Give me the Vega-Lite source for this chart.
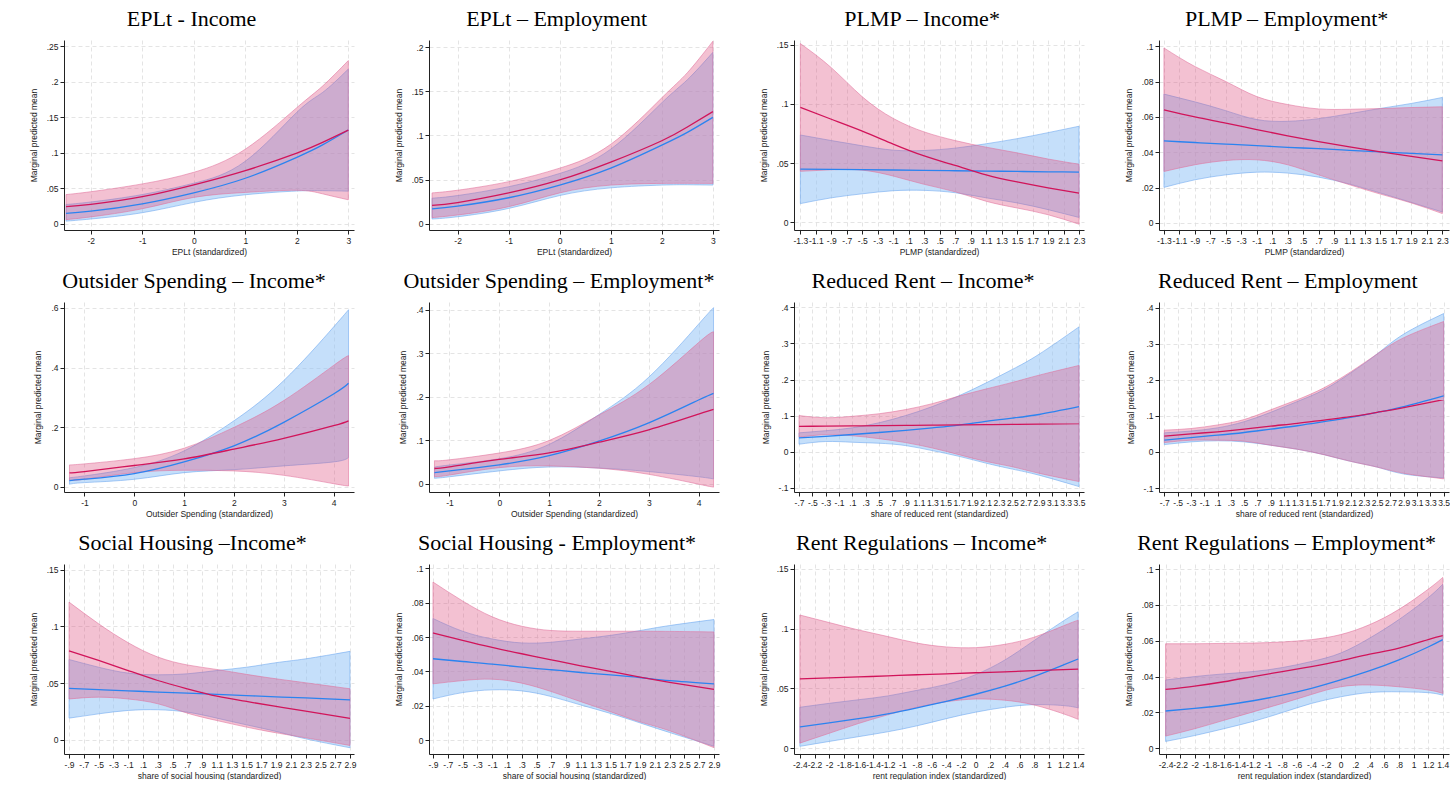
{
"$schema": "https://vega.github.io/schema/vega-lite/v6.json",
"background": "white",
"padding": {"left": 29, "top": 7, "right": 0, "bottom": 0},
"bounds": "flush",
"datasets": {"d": [
{"panel":1,"series":"1","x":-2.48,"mean":0.024,"lower":0.0056,"upper":0.041},
{"panel":1,"series":"1","x":-2,"mean":0.027,"lower":0.0095,"upper":0.045},
{"panel":1,"series":"1","x":-1,"mean":0.038,"lower":0.021,"upper":0.056},
{"panel":1,"series":"1","x":0,"mean":0.0547,"lower":0.037,"upper":0.0724},
{"panel":1,"series":"1","x":1,"mean":0.0748,"lower":0.044,"upper":0.105},
{"panel":1,"series":"1","x":2,"mean":0.0995,"lower":0.047,"upper":0.1636},
{"panel":1,"series":"1","x":2.5,"mean":0.1146,"lower":0.042,"upper":0.194},
{"panel":1,"series":"1","x":3,"mean":0.132,"lower":0.0336,"upper":0.23},
{"panel":1,"series":"2","x":-2.48,"mean":0.0145,"lower":0.0035,"upper":0.027},
{"panel":1,"series":"2","x":-2,"mean":0.0175,"lower":0.0065,"upper":0.0305},
{"panel":1,"series":"2","x":-1,"mean":0.028,"lower":0.0154,"upper":0.041},
{"panel":1,"series":"2","x":0,"mean":0.0435,"lower":0.03,"upper":0.057},
{"panel":1,"series":"2","x":1,"mean":0.064,"lower":0.0407,"upper":0.088},
{"panel":1,"series":"2","x":2,"mean":0.0935,"lower":0.046,"upper":0.157},
{"panel":1,"series":"2","x":2.5,"mean":0.111,"lower":0.0465,"upper":0.185},
{"panel":1,"series":"2","x":3,"mean":0.132,"lower":0.0458,"upper":0.218},
{"panel":2,"series":"1","x":-2.5,"mean":0.0209,"lower":0.007,"upper":0.035},
{"panel":2,"series":"1","x":-2,"mean":0.024,"lower":0.01,"upper":0.038},
{"panel":2,"series":"1","x":-1,"mean":0.0349,"lower":0.0194,"upper":0.0477},
{"panel":2,"series":"1","x":0,"mean":0.0496,"lower":0.035,"upper":0.063},
{"panel":2,"series":"1","x":1,"mean":0.0698,"lower":0.0438,"upper":0.09},
{"panel":2,"series":"1","x":2,"mean":0.094,"lower":0.0457,"upper":0.1426},
{"panel":2,"series":"1","x":2.5,"mean":0.1095,"lower":0.0458,"upper":0.171},
{"panel":2,"series":"1","x":3,"mean":0.127,"lower":0.0457,"upper":0.2066},
{"panel":2,"series":"2","x":-2.5,"mean":0.017,"lower":0.0054,"upper":0.029},
{"panel":2,"series":"2","x":-2,"mean":0.02,"lower":0.008,"upper":0.032},
{"panel":2,"series":"2","x":-1,"mean":0.0295,"lower":0.0174,"upper":0.042},
{"panel":2,"series":"2","x":0,"mean":0.0438,"lower":0.032,"upper":0.057},
{"panel":2,"series":"2","x":1,"mean":0.063,"lower":0.0407,"upper":0.0845},
{"panel":2,"series":"2","x":2,"mean":0.089,"lower":0.0438,"upper":0.137},
{"panel":2,"series":"2","x":2.5,"mean":0.1035,"lower":0.0442,"upper":0.163},
{"panel":2,"series":"2","x":3,"mean":0.1205,"lower":0.0438,"upper":0.194},
{"panel":3,"series":"1","x":-1.3,"mean":0.097,"lower":0.043,"upper":0.151},
{"panel":3,"series":"1","x":-0.9,"mean":0.087,"lower":0.0443,"upper":0.1306},
{"panel":3,"series":"1","x":-0.5,"mean":0.077,"lower":0.044,"upper":0.106},
{"panel":3,"series":"1","x":-0.1,"mean":0.066,"lower":0.039,"upper":0.0877},
{"panel":3,"series":"1","x":0.3,"mean":0.056,"lower":0.032,"upper":0.0763},
{"panel":3,"series":"1","x":0.7,"mean":0.048,"lower":0.0257,"upper":0.069},
{"panel":3,"series":"1","x":1.1,"mean":0.04,"lower":0.0177,"upper":0.0634},
{"panel":3,"series":"1","x":1.5,"mean":0.034,"lower":0.012,"upper":0.0586},
{"panel":3,"series":"1","x":1.9,"mean":0.029,"lower":0.0063,"upper":0.0534},
{"panel":3,"series":"1","x":2.3,"mean":0.0245,"lower":-0.0017,"upper":0.049},
{"panel":3,"series":"2","x":-1.3,"mean":0.0449,"lower":0.0157,"upper":0.0737},
{"panel":3,"series":"2","x":-0.9,"mean":0.0447,"lower":0.0206,"upper":0.069},
{"panel":3,"series":"2","x":-0.5,"mean":0.0444,"lower":0.024,"upper":0.0646},
{"panel":3,"series":"2","x":-0.1,"mean":0.0441,"lower":0.0266,"upper":0.0609},
{"panel":3,"series":"2","x":0.3,"mean":0.0438,"lower":0.0269,"upper":0.0606},
{"panel":3,"series":"2","x":0.7,"mean":0.0435,"lower":0.0249,"upper":0.0626},
{"panel":3,"series":"2","x":1.1,"mean":0.0432,"lower":0.0206,"upper":0.0663},
{"panel":3,"series":"2","x":1.5,"mean":0.0429,"lower":0.0163,"upper":0.0706},
{"panel":3,"series":"2","x":1.9,"mean":0.0426,"lower":0.0106,"upper":0.0757},
{"panel":3,"series":"2","x":2.3,"mean":0.0423,"lower":0.004,"upper":0.0811},
{"panel":4,"series":"1","x":-1.3,"mean":0.064,"lower":0.0291,"upper":0.099},
{"panel":4,"series":"1","x":-0.9,"mean":0.06,"lower":0.0329,"upper":0.0885},
{"panel":4,"series":"1","x":-0.5,"mean":0.0565,"lower":0.0353,"upper":0.08},
{"panel":4,"series":"1","x":-0.1,"mean":0.0528,"lower":0.0357,"upper":0.0715},
{"panel":4,"series":"1","x":0.3,"mean":0.0493,"lower":0.0329,"upper":0.067},
{"panel":4,"series":"1","x":0.7,"mean":0.046,"lower":0.0272,"upper":0.0645},
{"panel":4,"series":"1","x":1.1,"mean":0.043,"lower":0.0216,"upper":0.0643},
{"panel":4,"series":"1","x":1.5,"mean":0.0402,"lower":0.0163,"upper":0.0647},
{"panel":4,"series":"1","x":1.9,"mean":0.0376,"lower":0.0113,"upper":0.0653},
{"panel":4,"series":"1","x":2.3,"mean":0.0351,"lower":0.0053,"upper":0.0657},
{"panel":4,"series":"2","x":-1.3,"mean":0.0464,"lower":0.0201,"upper":0.0729},
{"panel":4,"series":"2","x":-0.9,"mean":0.0455,"lower":0.0244,"upper":0.0685},
{"panel":4,"series":"2","x":-0.5,"mean":0.0446,"lower":0.0272,"upper":0.0635},
{"panel":4,"series":"2","x":-0.1,"mean":0.0437,"lower":0.0287,"upper":0.0585},
{"panel":4,"series":"2","x":0.3,"mean":0.0428,"lower":0.0282,"upper":0.0575},
{"panel":4,"series":"2","x":0.7,"mean":0.042,"lower":0.0259,"upper":0.059},
{"panel":4,"series":"2","x":1.1,"mean":0.0411,"lower":0.022,"upper":0.0618},
{"panel":4,"series":"2","x":1.5,"mean":0.0402,"lower":0.0169,"upper":0.0648},
{"panel":4,"series":"2","x":1.9,"mean":0.0393,"lower":0.0116,"upper":0.0676},
{"panel":4,"series":"2","x":2.3,"mean":0.0385,"lower":0.0062,"upper":0.071},
{"panel":5,"series":"1","x":-1.3,"mean":0.046,"lower":0.0213,"upper":0.073},
{"panel":5,"series":"1","x":-1,"mean":0.0506,"lower":0.0247,"upper":0.0764},
{"panel":5,"series":"1","x":0,"mean":0.071,"lower":0.047,"upper":0.094},
{"panel":5,"series":"1","x":1,"mean":0.093,"lower":0.055,"upper":0.129},
{"panel":5,"series":"1","x":2,"mean":0.126,"lower":0.0528,"upper":0.199},
{"panel":5,"series":"1","x":3,"mean":0.162,"lower":0.038,"upper":0.289},
{"panel":5,"series":"1","x":4,"mean":0.2045,"lower":0.01,"upper":0.407},
{"panel":5,"series":"1","x":4.3,"mean":0.221,"lower":0.002,"upper":0.44},
{"panel":5,"series":"2","x":-1.3,"mean":0.0202,"lower":0.008,"upper":0.03},
{"panel":5,"series":"2","x":-1,"mean":0.025,"lower":0.0135,"upper":0.036},
{"panel":5,"series":"2","x":0,"mean":0.044,"lower":0.0247,"upper":0.064},
{"panel":5,"series":"2","x":1,"mean":0.083,"lower":0.047,"upper":0.12},
{"panel":5,"series":"2","x":2,"mean":0.137,"lower":0.057,"upper":0.221},
{"panel":5,"series":"2","x":3,"mean":0.216,"lower":0.0697,"upper":0.356},
{"panel":5,"series":"2","x":4,"mean":0.311,"lower":0.083,"upper":0.536},
{"panel":5,"series":"2","x":4.3,"mean":0.347,"lower":0.098,"upper":0.594},
{"panel":6,"series":"1","x":-1.3,"mean":0.035,"lower":0.0163,"upper":0.053},
{"panel":6,"series":"1","x":-1,"mean":0.0388,"lower":0.02,"upper":0.055},
{"panel":6,"series":"1","x":0,"mean":0.056,"lower":0.037,"upper":0.0707},
{"panel":6,"series":"1","x":1,"mean":0.071,"lower":0.041,"upper":0.0994},
{"panel":6,"series":"1","x":2,"mean":0.0955,"lower":0.0357,"upper":0.158},
{"panel":6,"series":"1","x":3,"mean":0.124,"lower":0.0217,"upper":0.2276},
{"panel":6,"series":"1","x":4,"mean":0.16,"lower":-0.001,"upper":0.3247},
{"panel":6,"series":"1","x":4.3,"mean":0.171,"lower":-0.0078,"upper":0.3495},
{"panel":6,"series":"2","x":-1.3,"mean":0.0256,"lower":0.0125,"upper":0.038},
{"panel":6,"series":"2","x":-1,"mean":0.0295,"lower":0.016,"upper":0.043},
{"panel":6,"series":"2","x":0,"mean":0.0435,"lower":0.0295,"upper":0.0575},
{"panel":6,"series":"2","x":1,"mean":0.0645,"lower":0.0385,"upper":0.0905},
{"panel":6,"series":"2","x":2,"mean":0.098,"lower":0.036,"upper":0.159},
{"panel":6,"series":"2","x":3,"mean":0.14,"lower":0.028,"upper":0.245},
{"panel":6,"series":"2","x":4,"mean":0.1926,"lower":0.016,"upper":0.367},
{"panel":6,"series":"2","x":4.3,"mean":0.208,"lower":0.011,"upper":0.405},
{"panel":7,"series":"1","x":-0.7,"mean":0.07,"lower":0.04,"upper":0.1},
{"panel":7,"series":"1","x":-0.3,"mean":0.0707,"lower":0.047,"upper":0.094},
{"panel":7,"series":"1","x":0.1,"mean":0.0714,"lower":0.044,"upper":0.098},
{"panel":7,"series":"1","x":0.5,"mean":0.0721,"lower":0.036,"upper":0.105},
{"panel":7,"series":"1","x":0.9,"mean":0.0728,"lower":0.025,"upper":0.1166},
{"panel":7,"series":"1","x":1.3,"mean":0.0735,"lower":0.01,"upper":0.133},
{"panel":7,"series":"1","x":1.7,"mean":0.0742,"lower":-0.0085,"upper":0.154},
{"panel":7,"series":"1","x":2.1,"mean":0.0749,"lower":-0.027,"upper":0.1735},
{"panel":7,"series":"1","x":2.5,"mean":0.0756,"lower":-0.042,"upper":0.192},
{"panel":7,"series":"1","x":2.9,"mean":0.0763,"lower":-0.06,"upper":0.212},
{"panel":7,"series":"1","x":3.5,"mean":0.0774,"lower":-0.083,"upper":0.239},
{"panel":7,"series":"2","x":-0.7,"mean":0.038,"lower":0.0205,"upper":0.052},
{"panel":7,"series":"2","x":-0.3,"mean":0.0425,"lower":0.028,"upper":0.058},
{"panel":7,"series":"2","x":0.1,"mean":0.0475,"lower":0.026,"upper":0.066},
{"panel":7,"series":"2","x":0.5,"mean":0.053,"lower":0.0233,"upper":0.08},
{"panel":7,"series":"2","x":0.9,"mean":0.059,"lower":0.0168,"upper":0.1},
{"panel":7,"series":"2","x":1.3,"mean":0.066,"lower":0.0028,"upper":0.125},
{"panel":7,"series":"2","x":1.7,"mean":0.0735,"lower":-0.013,"upper":0.155},
{"panel":7,"series":"2","x":2.1,"mean":0.084,"lower":-0.0317,"upper":0.19},
{"panel":7,"series":"2","x":2.5,"mean":0.093,"lower":-0.0485,"upper":0.228},
{"panel":7,"series":"2","x":2.9,"mean":0.103,"lower":-0.0653,"upper":0.27},
{"panel":7,"series":"2","x":3.5,"mean":0.1245,"lower":-0.097,"upper":0.346},
{"panel":8,"series":"1","x":-0.7,"mean":0.0439,"lower":0.026,"upper":0.0606},
{"panel":8,"series":"1","x":-0.3,"mean":0.0504,"lower":0.0327,"upper":0.065},
{"panel":8,"series":"1","x":0.1,"mean":0.056,"lower":0.0327,"upper":0.075},
{"panel":8,"series":"1","x":0.5,"mean":0.0634,"lower":0.03,"upper":0.09},
{"panel":8,"series":"1","x":0.9,"mean":0.0718,"lower":0.0187,"upper":0.117},
{"panel":8,"series":"1","x":1.3,"mean":0.0793,"lower":0.0075,"upper":0.145},
{"panel":8,"series":"1","x":1.7,"mean":0.0886,"lower":-0.0075,"upper":0.178},
{"panel":8,"series":"1","x":2.1,"mean":0.098,"lower":-0.026,"upper":0.222},
{"panel":8,"series":"1","x":2.5,"mean":0.11,"lower":-0.042,"upper":0.272},
{"panel":8,"series":"1","x":2.9,"mean":0.123,"lower":-0.059,"upper":0.317},
{"panel":8,"series":"1","x":3.5,"mean":0.1455,"lower":-0.0746,"upper":0.362},
{"panel":8,"series":"2","x":-0.7,"mean":0.0327,"lower":0.0205,"upper":0.053},
{"panel":8,"series":"2","x":-0.3,"mean":0.04,"lower":0.028,"upper":0.058},
{"panel":8,"series":"2","x":0.1,"mean":0.0466,"lower":0.031,"upper":0.067},
{"panel":8,"series":"2","x":0.5,"mean":0.054,"lower":0.028,"upper":0.084},
{"panel":8,"series":"2","x":0.9,"mean":0.0634,"lower":0.0187,"upper":0.11},
{"panel":8,"series":"2","x":1.3,"mean":0.0728,"lower":0.0075,"upper":0.14},
{"panel":8,"series":"2","x":1.7,"mean":0.084,"lower":-0.0075,"upper":0.1726},
{"panel":8,"series":"2","x":2.1,"mean":0.096,"lower":-0.026,"upper":0.219},
{"panel":8,"series":"2","x":2.5,"mean":0.11,"lower":-0.042,"upper":0.272},
{"panel":8,"series":"2","x":2.9,"mean":0.126,"lower":-0.061,"upper":0.327},
{"panel":8,"series":"2","x":3.5,"mean":0.156,"lower":-0.072,"upper":0.384},
{"panel":9,"series":"1","x":-0.9,"mean":0.0785,"lower":0.036,"upper":0.1214},
{"panel":9,"series":"1","x":-0.5,"mean":0.07,"lower":0.0376,"upper":0.1023},
{"panel":9,"series":"1","x":-0.1,"mean":0.0611,"lower":0.036,"upper":0.0856},
{"panel":9,"series":"1","x":0.3,"mean":0.0523,"lower":0.0318,"upper":0.073},
{"panel":9,"series":"1","x":0.7,"mean":0.045,"lower":0.0235,"upper":0.066},
{"panel":9,"series":"1","x":1.1,"mean":0.0385,"lower":0.017,"upper":0.062},
{"panel":9,"series":"1","x":1.5,"mean":0.0338,"lower":0.0112,"upper":0.0577},
{"panel":9,"series":"1","x":1.9,"mean":0.0294,"lower":0.0062,"upper":0.0538},
{"panel":9,"series":"1","x":2.3,"mean":0.0253,"lower":0.0018,"upper":0.0503},
{"panel":9,"series":"1","x":2.9,"mean":0.019,"lower":-0.005,"upper":0.045},
{"panel":9,"series":"2","x":-0.9,"mean":0.0453,"lower":0.0191,"upper":0.0708},
{"panel":9,"series":"2","x":-0.5,"mean":0.0442,"lower":0.0229,"upper":0.064},
{"panel":9,"series":"2","x":-0.1,"mean":0.0432,"lower":0.0259,"upper":0.0588},
{"panel":9,"series":"2","x":0.3,"mean":0.0421,"lower":0.0265,"upper":0.0573},
{"panel":9,"series":"2","x":0.7,"mean":0.0411,"lower":0.0244,"upper":0.0582},
{"panel":9,"series":"2","x":1.1,"mean":0.04,"lower":0.0191,"upper":0.0611},
{"panel":9,"series":"2","x":1.5,"mean":0.039,"lower":0.0132,"upper":0.064},
{"panel":9,"series":"2","x":1.9,"mean":0.0379,"lower":0.0074,"upper":0.068},
{"panel":9,"series":"2","x":2.3,"mean":0.0369,"lower":0.0009,"upper":0.0714},
{"panel":9,"series":"2","x":2.9,"mean":0.0353,"lower":-0.007,"upper":0.078},
{"panel":10,"series":"1","x":-0.9,"mean":0.0624,"lower":0.0328,"upper":0.092},
{"panel":10,"series":"1","x":-0.5,"mean":0.0581,"lower":0.0347,"upper":0.081},
{"panel":10,"series":"1","x":-0.1,"mean":0.054,"lower":0.0355,"upper":0.0718},
{"panel":10,"series":"1","x":0.3,"mean":0.0503,"lower":0.0332,"upper":0.0663},
{"panel":10,"series":"1","x":0.7,"mean":0.0468,"lower":0.0283,"upper":0.0638},
{"panel":10,"series":"1","x":1.1,"mean":0.0433,"lower":0.0224,"upper":0.0634},
{"panel":10,"series":"1","x":1.5,"mean":0.04,"lower":0.0166,"upper":0.0634},
{"panel":10,"series":"1","x":1.9,"mean":0.0367,"lower":0.0107,"upper":0.0634},
{"panel":10,"series":"1","x":2.3,"mean":0.0337,"lower":0.0055,"upper":0.0633},
{"panel":10,"series":"1","x":2.9,"mean":0.0296,"lower":-0.0043,"upper":0.063},
{"panel":10,"series":"2","x":-0.9,"mean":0.0474,"lower":0.024,"upper":0.0708},
{"panel":10,"series":"2","x":-0.5,"mean":0.0458,"lower":0.0277,"upper":0.0634},
{"panel":10,"series":"2","x":-0.1,"mean":0.0443,"lower":0.0293,"upper":0.0589},
{"panel":10,"series":"2","x":0.3,"mean":0.0425,"lower":0.0287,"upper":0.0566},
{"panel":10,"series":"2","x":0.7,"mean":0.041,"lower":0.0254,"upper":0.057},
{"panel":10,"series":"2","x":1.1,"mean":0.0394,"lower":0.0205,"upper":0.0589},
{"panel":10,"series":"2","x":1.5,"mean":0.038,"lower":0.0156,"upper":0.061},
{"panel":10,"series":"2","x":1.9,"mean":0.0365,"lower":0.0101,"upper":0.0638},
{"panel":10,"series":"2","x":2.3,"mean":0.0347,"lower":0.0045,"upper":0.0667},
{"panel":10,"series":"2","x":2.9,"mean":0.0328,"lower":-0.0035,"upper":0.0702},
{"panel":11,"series":"1","x":-2.4,"mean":0.0578,"lower":0.0041,"upper":0.1113},
{"panel":11,"series":"1","x":-2,"mean":0.0587,"lower":0.0123,"upper":0.105},
{"panel":11,"series":"1","x":-1.6,"mean":0.0595,"lower":0.0205,"upper":0.0988},
{"panel":11,"series":"1","x":-1.2,"mean":0.0604,"lower":0.0278,"upper":0.0933},
{"panel":11,"series":"1","x":-0.8,"mean":0.0613,"lower":0.0341,"upper":0.0878},
{"panel":11,"series":"1","x":-0.4,"mean":0.0621,"lower":0.0387,"upper":0.0846},
{"panel":11,"series":"1","x":0,"mean":0.063,"lower":0.041,"upper":0.084},
{"panel":11,"series":"1","x":0.4,"mean":0.0638,"lower":0.04,"upper":0.0868},
{"panel":11,"series":"1","x":0.8,"mean":0.0647,"lower":0.036,"upper":0.0928},
{"panel":11,"series":"1","x":1.2,"mean":0.0656,"lower":0.0286,"upper":0.1023},
{"panel":11,"series":"1","x":1.4,"mean":0.066,"lower":0.024,"upper":0.107},
{"panel":11,"series":"2","x":-2.4,"mean":0.0177,"lower":0.0014,"upper":0.0341},
{"panel":11,"series":"2","x":-2,"mean":0.021,"lower":0.0055,"upper":0.0374},
{"panel":11,"series":"2","x":-1.6,"mean":0.0246,"lower":0.0095,"upper":0.0404},
{"panel":11,"series":"2","x":-1.2,"mean":0.0286,"lower":0.0136,"upper":0.0436},
{"panel":11,"series":"2","x":-0.8,"mean":0.0336,"lower":0.0186,"upper":0.0483},
{"panel":11,"series":"2","x":-0.4,"mean":0.039,"lower":0.0246,"upper":0.0532},
{"panel":11,"series":"2","x":0,"mean":0.045,"lower":0.03,"upper":0.0614},
{"panel":11,"series":"2","x":0.4,"mean":0.0518,"lower":0.0341,"upper":0.0737},
{"panel":11,"series":"2","x":0.8,"mean":0.06,"lower":0.0363,"upper":0.09},
{"panel":11,"series":"2","x":1.2,"mean":0.0696,"lower":0.0355,"upper":0.1064},
{"panel":11,"series":"2","x":1.4,"mean":0.0745,"lower":0.0336,"upper":0.114},
{"panel":12,"series":"1","x":-2.4,"mean":0.0328,"lower":0.0068,"upper":0.0583},
{"panel":12,"series":"1","x":-2,"mean":0.0347,"lower":0.0109,"upper":0.0583},
{"panel":12,"series":"1","x":-1.6,"mean":0.0371,"lower":0.0156,"upper":0.0585},
{"panel":12,"series":"1","x":-1.2,"mean":0.04,"lower":0.0203,"upper":0.0587},
{"panel":12,"series":"1","x":-0.8,"mean":0.0428,"lower":0.025,"upper":0.0593},
{"panel":12,"series":"1","x":-0.4,"mean":0.0456,"lower":0.03,"upper":0.0606},
{"panel":12,"series":"1","x":0,"mean":0.0488,"lower":0.0343,"upper":0.0634},
{"panel":12,"series":"1","x":0.4,"mean":0.0525,"lower":0.0353,"upper":0.069},
{"panel":12,"series":"1","x":0.8,"mean":0.0559,"lower":0.0343,"upper":0.0775},
{"panel":12,"series":"1","x":1.2,"mean":0.0606,"lower":0.0325,"upper":0.0887},
{"panel":12,"series":"1","x":1.4,"mean":0.0628,"lower":0.0306,"upper":0.0953},
{"panel":12,"series":"2","x":-2.4,"mean":0.0208,"lower":0.0038,"upper":0.0381},
{"panel":12,"series":"2","x":-2,"mean":0.0223,"lower":0.0071,"upper":0.04},
{"panel":12,"series":"2","x":-1.6,"mean":0.024,"lower":0.0109,"upper":0.0415},
{"panel":12,"series":"2","x":-1.2,"mean":0.0265,"lower":0.015,"upper":0.0428},
{"panel":12,"series":"2","x":-0.8,"mean":0.0296,"lower":0.0199,"upper":0.045},
{"panel":12,"series":"2","x":-0.4,"mean":0.0334,"lower":0.025,"upper":0.0484},
{"panel":12,"series":"2","x":0,"mean":0.0381,"lower":0.0287,"upper":0.0531},
{"panel":12,"series":"2","x":0.4,"mean":0.0433,"lower":0.0311,"upper":0.0615},
{"panel":12,"series":"2","x":0.8,"mean":0.0493,"lower":0.0315,"upper":0.0718},
{"panel":12,"series":"2","x":1.2,"mean":0.0565,"lower":0.031,"upper":0.084},
{"panel":12,"series":"2","x":1.4,"mean":0.0606,"lower":0.0296,"upper":0.0915}
]},
"data": {"name": "d"},
"columns": 4,
"spacing": {"row": 72, "column": 75},
"concat": [
{"title":"EPLt - Income","width":290,"height":190,"transform":[{"filter":"datum.panel == 1"}],
 "encoding":{"x":{"field":"x","type":"quantitative","scale":{"domain":[-2.52,3.11],"nice":false,"zero":false},"axis":{"values":[-2,-1,0,1,2,3],"title":"EPLt (standardized)","labelExpr":"replace(toString(datum.value), '0.', '.')"}},
  "y":{"field":"mean","type":"quantitative","scale":{"domain":[-0.009,0.259],"nice":false,"zero":false},"axis":{"values":[0,0.05,0.1,0.15,0.2,0.25],"title":"Marginal predicted mean","labelExpr":"replace(toString(datum.value), '0.', '.')"}}},
 "layer":[
  {"transform":[{"filter":"datum.series == '2'"}],"mark":{"type":"area","interpolate":"natural","fill":"#8cc0f5","fillOpacity":0.5,"stroke":"#6aa6ee","strokeOpacity":0.8,"strokeWidth":0.7},"encoding":{"y":{"field":"upper","type":"quantitative"},"y2":{"field":"lower"}}},
  {"transform":[{"filter":"datum.series == '1'"}],"mark":{"type":"area","interpolate":"natural","fill":"#dc4e7e","fillOpacity":0.35,"stroke":"#e0709a","strokeOpacity":0.8,"strokeWidth":0.7},"encoding":{"y":{"field":"upper","type":"quantitative"},"y2":{"field":"lower"}}},
  {"transform":[{"filter":"datum.series == '2'"}],"mark":{"type":"line","interpolate":"natural","color":"#2b83f0","strokeWidth":1.3},"encoding":{}},
  {"transform":[{"filter":"datum.series == '1'"}],"mark":{"type":"line","interpolate":"natural","color":"#d1145a","strokeWidth":1.3},"encoding":{}}
 ]},
{"title":"EPLt – Employment","width":290,"height":190,"transform":[{"filter":"datum.panel == 2"}],
 "encoding":{"x":{"field":"x","type":"quantitative","scale":{"domain":[-2.56,3.12],"nice":false,"zero":false},"axis":{"values":[-2,-1,0,1,2,3],"title":"EPLt (standardized)","labelExpr":"replace(toString(datum.value), '0.', '.')"}},
  "y":{"field":"mean","type":"quantitative","scale":{"domain":[-0.007,0.208],"nice":false,"zero":false},"axis":{"values":[0,0.05,0.1,0.15,0.2],"title":"Marginal predicted mean","labelExpr":"replace(toString(datum.value), '0.', '.')"}}},
 "layer":[
  {"transform":[{"filter":"datum.series == '2'"}],"mark":{"type":"area","interpolate":"natural","fill":"#8cc0f5","fillOpacity":0.5,"stroke":"#6aa6ee","strokeOpacity":0.8,"strokeWidth":0.7},"encoding":{"y":{"field":"upper","type":"quantitative"},"y2":{"field":"lower"}}},
  {"transform":[{"filter":"datum.series == '1'"}],"mark":{"type":"area","interpolate":"natural","fill":"#dc4e7e","fillOpacity":0.35,"stroke":"#e0709a","strokeOpacity":0.8,"strokeWidth":0.7},"encoding":{"y":{"field":"upper","type":"quantitative"},"y2":{"field":"lower"}}},
  {"transform":[{"filter":"datum.series == '2'"}],"mark":{"type":"line","interpolate":"natural","color":"#2b83f0","strokeWidth":1.3},"encoding":{}},
  {"transform":[{"filter":"datum.series == '1'"}],"mark":{"type":"line","interpolate":"natural","color":"#d1145a","strokeWidth":1.3},"encoding":{}}
 ]},
{"title":"PLMP – Income*","width":290,"height":190,"transform":[{"filter":"datum.panel == 3"}],
 "encoding":{"x":{"field":"x","type":"quantitative","scale":{"domain":[-1.382,2.364],"nice":false,"zero":false},"axis":{"values":[-1.3,-1.1,-0.9,-0.7,-0.5,-0.3,-0.1,0.1,0.3,0.5,0.7,0.9,1.1,1.3,1.5,1.7,1.9,2.1,2.3],"title":"PLMP (standardized)","labelExpr":"replace(toString(datum.value), '0.', '.')"}},
  "y":{"field":"mean","type":"quantitative","scale":{"domain":[-0.0066,0.154],"nice":false,"zero":false},"axis":{"values":[0,0.05,0.1,0.15],"title":"Marginal predicted mean","labelExpr":"replace(toString(datum.value), '0.', '.')"}}},
 "layer":[
  {"transform":[{"filter":"datum.series == '2'"}],"mark":{"type":"area","interpolate":"natural","fill":"#8cc0f5","fillOpacity":0.5,"stroke":"#6aa6ee","strokeOpacity":0.8,"strokeWidth":0.7},"encoding":{"y":{"field":"upper","type":"quantitative"},"y2":{"field":"lower"}}},
  {"transform":[{"filter":"datum.series == '1'"}],"mark":{"type":"area","interpolate":"natural","fill":"#dc4e7e","fillOpacity":0.35,"stroke":"#e0709a","strokeOpacity":0.8,"strokeWidth":0.7},"encoding":{"y":{"field":"upper","type":"quantitative"},"y2":{"field":"lower"}}},
  {"transform":[{"filter":"datum.series == '2'"}],"mark":{"type":"line","interpolate":"natural","color":"#2b83f0","strokeWidth":1.3},"encoding":{}},
  {"transform":[{"filter":"datum.series == '1'"}],"mark":{"type":"line","interpolate":"natural","color":"#d1145a","strokeWidth":1.3},"encoding":{}}
 ]},
{"title":"PLMP – Employment*","width":290,"height":190,"transform":[{"filter":"datum.panel == 4"}],
 "encoding":{"x":{"field":"x","type":"quantitative","scale":{"domain":[-1.364,2.386],"nice":false,"zero":false},"axis":{"values":[-1.3,-1.1,-0.9,-0.7,-0.5,-0.3,-0.1,0.1,0.3,0.5,0.7,0.9,1.1,1.3,1.5,1.7,1.9,2.1,2.3],"title":"PLMP (standardized)","labelExpr":"replace(toString(datum.value), '0.', '.')"}},
  "y":{"field":"mean","type":"quantitative","scale":{"domain":[-0.004,0.1035],"nice":false,"zero":false},"axis":{"values":[0,0.02,0.04,0.06,0.08,0.1],"title":"Marginal predicted mean","labelExpr":"replace(toString(datum.value), '0.', '.')"}}},
 "layer":[
  {"transform":[{"filter":"datum.series == '2'"}],"mark":{"type":"area","interpolate":"natural","fill":"#8cc0f5","fillOpacity":0.5,"stroke":"#6aa6ee","strokeOpacity":0.8,"strokeWidth":0.7},"encoding":{"y":{"field":"upper","type":"quantitative"},"y2":{"field":"lower"}}},
  {"transform":[{"filter":"datum.series == '1'"}],"mark":{"type":"area","interpolate":"natural","fill":"#dc4e7e","fillOpacity":0.35,"stroke":"#e0709a","strokeOpacity":0.8,"strokeWidth":0.7},"encoding":{"y":{"field":"upper","type":"quantitative"},"y2":{"field":"lower"}}},
  {"transform":[{"filter":"datum.series == '2'"}],"mark":{"type":"line","interpolate":"natural","color":"#2b83f0","strokeWidth":1.3},"encoding":{}},
  {"transform":[{"filter":"datum.series == '1'"}],"mark":{"type":"line","interpolate":"natural","color":"#d1145a","strokeWidth":1.3},"encoding":{}}
 ]},
{"title":"Outsider Spending – Income*","width":290,"height":190,"transform":[{"filter":"datum.panel == 5"}],
 "encoding":{"x":{"field":"x","type":"quantitative","scale":{"domain":[-1.41,4.41],"nice":false,"zero":false},"axis":{"values":[-1,0,1,2,3,4],"title":"Outsider Spending (standardized)","labelExpr":"replace(toString(datum.value), '0.', '.')"}},
  "y":{"field":"mean","type":"quantitative","scale":{"domain":[-0.018,0.62],"nice":false,"zero":false},"axis":{"values":[0,0.2,0.4,0.6],"title":"Marginal predicted mean","labelExpr":"replace(toString(datum.value), '0.', '.')"}}},
 "layer":[
  {"transform":[{"filter":"datum.series == '2'"}],"mark":{"type":"area","interpolate":"natural","fill":"#8cc0f5","fillOpacity":0.5,"stroke":"#6aa6ee","strokeOpacity":0.8,"strokeWidth":0.7},"encoding":{"y":{"field":"upper","type":"quantitative"},"y2":{"field":"lower"}}},
  {"transform":[{"filter":"datum.series == '1'"}],"mark":{"type":"area","interpolate":"natural","fill":"#dc4e7e","fillOpacity":0.35,"stroke":"#e0709a","strokeOpacity":0.8,"strokeWidth":0.7},"encoding":{"y":{"field":"upper","type":"quantitative"},"y2":{"field":"lower"}}},
  {"transform":[{"filter":"datum.series == '2'"}],"mark":{"type":"line","interpolate":"natural","color":"#2b83f0","strokeWidth":1.3},"encoding":{}},
  {"transform":[{"filter":"datum.series == '1'"}],"mark":{"type":"line","interpolate":"natural","color":"#d1145a","strokeWidth":1.3},"encoding":{}}
 ]},
{"title":"Outsider Spending – Employment*","width":290,"height":190,"transform":[{"filter":"datum.panel == 6"}],
 "encoding":{"x":{"field":"x","type":"quantitative","scale":{"domain":[-1.41,4.41],"nice":false,"zero":false},"axis":{"values":[-1,0,1,2,3,4],"title":"Outsider Spending (standardized)","labelExpr":"replace(toString(datum.value), '0.', '.')"}},
  "y":{"field":"mean","type":"quantitative","scale":{"domain":[-0.019,0.418],"nice":false,"zero":false},"axis":{"values":[0,0.1,0.2,0.3,0.4],"title":"Marginal predicted mean","labelExpr":"replace(toString(datum.value), '0.', '.')"}}},
 "layer":[
  {"transform":[{"filter":"datum.series == '2'"}],"mark":{"type":"area","interpolate":"natural","fill":"#8cc0f5","fillOpacity":0.5,"stroke":"#6aa6ee","strokeOpacity":0.8,"strokeWidth":0.7},"encoding":{"y":{"field":"upper","type":"quantitative"},"y2":{"field":"lower"}}},
  {"transform":[{"filter":"datum.series == '1'"}],"mark":{"type":"area","interpolate":"natural","fill":"#dc4e7e","fillOpacity":0.35,"stroke":"#e0709a","strokeOpacity":0.8,"strokeWidth":0.7},"encoding":{"y":{"field":"upper","type":"quantitative"},"y2":{"field":"lower"}}},
  {"transform":[{"filter":"datum.series == '2'"}],"mark":{"type":"line","interpolate":"natural","color":"#2b83f0","strokeWidth":1.3},"encoding":{}},
  {"transform":[{"filter":"datum.series == '1'"}],"mark":{"type":"line","interpolate":"natural","color":"#d1145a","strokeWidth":1.3},"encoding":{}}
 ]},
{"title":"Reduced Rent – Income*","width":290,"height":190,"transform":[{"filter":"datum.panel == 7"}],
 "encoding":{"x":{"field":"x","type":"quantitative","scale":{"domain":[-0.775,3.575],"nice":false,"zero":false},"axis":{"values":[-0.7,-0.5,-0.3,-0.1,0.1,0.3,0.5,0.7,0.9,1.1,1.3,1.5,1.7,1.9,2.1,2.3,2.5,2.7,2.9,3.1,3.3,3.5],"title":"share of reduced rent (standardized)","labelExpr":"replace(toString(datum.value), '0.', '.')"}},
  "y":{"field":"mean","type":"quantitative","scale":{"domain":[-0.112,0.415],"nice":false,"zero":false},"axis":{"values":[-0.1,0,0.1,0.2,0.3,0.4],"title":"Marginal predicted mean","labelExpr":"replace(toString(datum.value), '0.', '.')"}}},
 "layer":[
  {"transform":[{"filter":"datum.series == '2'"}],"mark":{"type":"area","interpolate":"natural","fill":"#8cc0f5","fillOpacity":0.5,"stroke":"#6aa6ee","strokeOpacity":0.8,"strokeWidth":0.7},"encoding":{"y":{"field":"upper","type":"quantitative"},"y2":{"field":"lower"}}},
  {"transform":[{"filter":"datum.series == '1'"}],"mark":{"type":"area","interpolate":"natural","fill":"#dc4e7e","fillOpacity":0.35,"stroke":"#e0709a","strokeOpacity":0.8,"strokeWidth":0.7},"encoding":{"y":{"field":"upper","type":"quantitative"},"y2":{"field":"lower"}}},
  {"transform":[{"filter":"datum.series == '2'"}],"mark":{"type":"line","interpolate":"natural","color":"#2b83f0","strokeWidth":1.3},"encoding":{}},
  {"transform":[{"filter":"datum.series == '1'"}],"mark":{"type":"line","interpolate":"natural","color":"#d1145a","strokeWidth":1.3},"encoding":{}}
 ]},
{"title":"Reduced Rent – Employment","width":290,"height":190,"transform":[{"filter":"datum.panel == 8"}],
 "encoding":{"x":{"field":"x","type":"quantitative","scale":{"domain":[-0.78,3.58],"nice":false,"zero":false},"axis":{"values":[-0.7,-0.5,-0.3,-0.1,0.1,0.3,0.5,0.7,0.9,1.1,1.3,1.5,1.7,1.9,2.1,2.3,2.5,2.7,2.9,3.1,3.3,3.5],"title":"share of reduced rent (standardized)","labelExpr":"replace(toString(datum.value), '0.', '.')"}},
  "y":{"field":"mean","type":"quantitative","scale":{"domain":[-0.111,0.416],"nice":false,"zero":false},"axis":{"values":[-0.1,0,0.1,0.2,0.3,0.4],"title":"Marginal predicted mean","labelExpr":"replace(toString(datum.value), '0.', '.')"}}},
 "layer":[
  {"transform":[{"filter":"datum.series == '2'"}],"mark":{"type":"area","interpolate":"natural","fill":"#8cc0f5","fillOpacity":0.5,"stroke":"#6aa6ee","strokeOpacity":0.8,"strokeWidth":0.7},"encoding":{"y":{"field":"upper","type":"quantitative"},"y2":{"field":"lower"}}},
  {"transform":[{"filter":"datum.series == '1'"}],"mark":{"type":"area","interpolate":"natural","fill":"#dc4e7e","fillOpacity":0.35,"stroke":"#e0709a","strokeOpacity":0.8,"strokeWidth":0.7},"encoding":{"y":{"field":"upper","type":"quantitative"},"y2":{"field":"lower"}}},
  {"transform":[{"filter":"datum.series == '2'"}],"mark":{"type":"line","interpolate":"natural","color":"#2b83f0","strokeWidth":1.3},"encoding":{}},
  {"transform":[{"filter":"datum.series == '1'"}],"mark":{"type":"line","interpolate":"natural","color":"#d1145a","strokeWidth":1.3},"encoding":{}}
 ]},
{"title":"Social Housing –Income*","width":290,"height":190,"transform":[{"filter":"datum.panel == 9"}],
 "encoding":{"x":{"field":"x","type":"quantitative","scale":{"domain":[-0.968,2.954],"nice":false,"zero":false},"axis":{"values":[-0.9,-0.7,-0.5,-0.3,-0.1,0.1,0.3,0.5,0.7,0.9,1.1,1.3,1.5,1.7,1.9,2.1,2.3,2.5,2.7,2.9],"title":"share of social housing (standardized)","labelExpr":"replace(toString(datum.value), '0.', '.')"}},
  "y":{"field":"mean","type":"quantitative","scale":{"domain":[-0.0125,0.155],"nice":false,"zero":false},"axis":{"values":[0,0.05,0.1,0.15],"title":"Marginal predicted mean","labelExpr":"replace(toString(datum.value), '0.', '.')"}}},
 "layer":[
  {"transform":[{"filter":"datum.series == '2'"}],"mark":{"type":"area","interpolate":"natural","fill":"#8cc0f5","fillOpacity":0.5,"stroke":"#6aa6ee","strokeOpacity":0.8,"strokeWidth":0.7},"encoding":{"y":{"field":"upper","type":"quantitative"},"y2":{"field":"lower"}}},
  {"transform":[{"filter":"datum.series == '1'"}],"mark":{"type":"area","interpolate":"natural","fill":"#dc4e7e","fillOpacity":0.35,"stroke":"#e0709a","strokeOpacity":0.8,"strokeWidth":0.7},"encoding":{"y":{"field":"upper","type":"quantitative"},"y2":{"field":"lower"}}},
  {"transform":[{"filter":"datum.series == '2'"}],"mark":{"type":"line","interpolate":"natural","color":"#2b83f0","strokeWidth":1.3},"encoding":{}},
  {"transform":[{"filter":"datum.series == '1'"}],"mark":{"type":"line","interpolate":"natural","color":"#d1145a","strokeWidth":1.3},"encoding":{}}
 ]},
{"title":"Social Housing - Employment*","width":290,"height":190,"transform":[{"filter":"datum.panel == 10"}],
 "encoding":{"x":{"field":"x","type":"quantitative","scale":{"domain":[-0.954,2.968],"nice":false,"zero":false},"axis":{"values":[-0.9,-0.7,-0.5,-0.3,-0.1,0.1,0.3,0.5,0.7,0.9,1.1,1.3,1.5,1.7,1.9,2.1,2.3,2.5,2.7,2.9],"title":"share of social housing (standardized)","labelExpr":"replace(toString(datum.value), '0.', '.')"}},
  "y":{"field":"mean","type":"quantitative","scale":{"domain":[-0.008,0.1025],"nice":false,"zero":false},"axis":{"values":[0,0.02,0.04,0.06,0.08,0.1],"title":"Marginal predicted mean","labelExpr":"replace(toString(datum.value), '0.', '.')"}}},
 "layer":[
  {"transform":[{"filter":"datum.series == '2'"}],"mark":{"type":"area","interpolate":"natural","fill":"#8cc0f5","fillOpacity":0.5,"stroke":"#6aa6ee","strokeOpacity":0.8,"strokeWidth":0.7},"encoding":{"y":{"field":"upper","type":"quantitative"},"y2":{"field":"lower"}}},
  {"transform":[{"filter":"datum.series == '1'"}],"mark":{"type":"area","interpolate":"natural","fill":"#dc4e7e","fillOpacity":0.35,"stroke":"#e0709a","strokeOpacity":0.8,"strokeWidth":0.7},"encoding":{"y":{"field":"upper","type":"quantitative"},"y2":{"field":"lower"}}},
  {"transform":[{"filter":"datum.series == '2'"}],"mark":{"type":"line","interpolate":"natural","color":"#2b83f0","strokeWidth":1.3},"encoding":{}},
  {"transform":[{"filter":"datum.series == '1'"}],"mark":{"type":"line","interpolate":"natural","color":"#d1145a","strokeWidth":1.3},"encoding":{}}
 ]},
{"title":"Rent Regulations – Income*","width":290,"height":190,"transform":[{"filter":"datum.panel == 11"}],
 "encoding":{"x":{"field":"x","type":"quantitative","scale":{"domain":[-2.48,1.48],"nice":false,"zero":false},"axis":{"values":[-2.4,-2.2,-2,-1.8,-1.6,-1.4,-1.2,-1,-0.8,-0.6,-0.4,-0.2,0,0.2,0.4,0.6,0.8,1,1.2,1.4],"title":"rent regulation index (standardized)","labelExpr":"replace(toString(datum.value), '0.', '.')"}},
  "y":{"field":"mean","type":"quantitative","scale":{"domain":[-0.005,0.154],"nice":false,"zero":false},"axis":{"values":[0,0.05,0.1,0.15],"title":"Marginal predicted mean","labelExpr":"replace(toString(datum.value), '0.', '.')"}}},
 "layer":[
  {"transform":[{"filter":"datum.series == '2'"}],"mark":{"type":"area","interpolate":"natural","fill":"#8cc0f5","fillOpacity":0.5,"stroke":"#6aa6ee","strokeOpacity":0.8,"strokeWidth":0.7},"encoding":{"y":{"field":"upper","type":"quantitative"},"y2":{"field":"lower"}}},
  {"transform":[{"filter":"datum.series == '1'"}],"mark":{"type":"area","interpolate":"natural","fill":"#dc4e7e","fillOpacity":0.35,"stroke":"#e0709a","strokeOpacity":0.8,"strokeWidth":0.7},"encoding":{"y":{"field":"upper","type":"quantitative"},"y2":{"field":"lower"}}},
  {"transform":[{"filter":"datum.series == '2'"}],"mark":{"type":"line","interpolate":"natural","color":"#2b83f0","strokeWidth":1.3},"encoding":{}},
  {"transform":[{"filter":"datum.series == '1'"}],"mark":{"type":"line","interpolate":"natural","color":"#d1145a","strokeWidth":1.3},"encoding":{}}
 ]},
{"title":"Rent Regulations – Employment*","width":290,"height":190,"transform":[{"filter":"datum.panel == 12"}],
 "encoding":{"x":{"field":"x","type":"quantitative","scale":{"domain":[-2.49,1.486],"nice":false,"zero":false},"axis":{"values":[-2.4,-2.2,-2,-1.8,-1.6,-1.4,-1.2,-1,-0.8,-0.6,-0.4,-0.2,0,0.2,0.4,0.6,0.8,1,1.2,1.4],"title":"rent regulation index (standardized)","labelExpr":"replace(toString(datum.value), '0.', '.')"}},
  "y":{"field":"mean","type":"quantitative","scale":{"domain":[-0.0032,0.1028],"nice":false,"zero":false},"axis":{"values":[0,0.02,0.04,0.06,0.08,0.1],"title":"Marginal predicted mean","labelExpr":"replace(toString(datum.value), '0.', '.')"}}},
 "layer":[
  {"transform":[{"filter":"datum.series == '2'"}],"mark":{"type":"area","interpolate":"natural","fill":"#8cc0f5","fillOpacity":0.5,"stroke":"#6aa6ee","strokeOpacity":0.8,"strokeWidth":0.7},"encoding":{"y":{"field":"upper","type":"quantitative"},"y2":{"field":"lower"}}},
  {"transform":[{"filter":"datum.series == '1'"}],"mark":{"type":"area","interpolate":"natural","fill":"#dc4e7e","fillOpacity":0.35,"stroke":"#e0709a","strokeOpacity":0.8,"strokeWidth":0.7},"encoding":{"y":{"field":"upper","type":"quantitative"},"y2":{"field":"lower"}}},
  {"transform":[{"filter":"datum.series == '2'"}],"mark":{"type":"line","interpolate":"natural","color":"#2b83f0","strokeWidth":1.3},"encoding":{}},
  {"transform":[{"filter":"datum.series == '1'"}],"mark":{"type":"line","interpolate":"natural","color":"#d1145a","strokeWidth":1.3},"encoding":{}}
 ]}
],
"config": {
 "font": "Liberation Sans",
 "view": {"stroke": null},
 "title": {"font": "Liberation Serif", "fontSize": 22, "fontWeight": "normal", "color": "#000000", "anchor": "middle", "frame": "bounds", "offset": 9},
 "axis": {"labelFont": "Liberation Sans", "titleFont": "Liberation Sans", "labelFontSize": 8.5, "titleFontSize": 8.5, "titleFontWeight": "normal", "labelColor": "#222222", "titleColor": "#222222", "domainColor": "#222222", "tickColor": "#222222", "tickSize": 4, "gridColor": "#dddddd", "gridDash": [4, 3], "gridWidth": 0.8, "labelOverlap": false, "labelFlush": false, "labelPadding": 2},
 "axisX": {"titlePadding": 3},
 "axisY": {"titlePadding": 8, "labelAngle": 0}
}
}
